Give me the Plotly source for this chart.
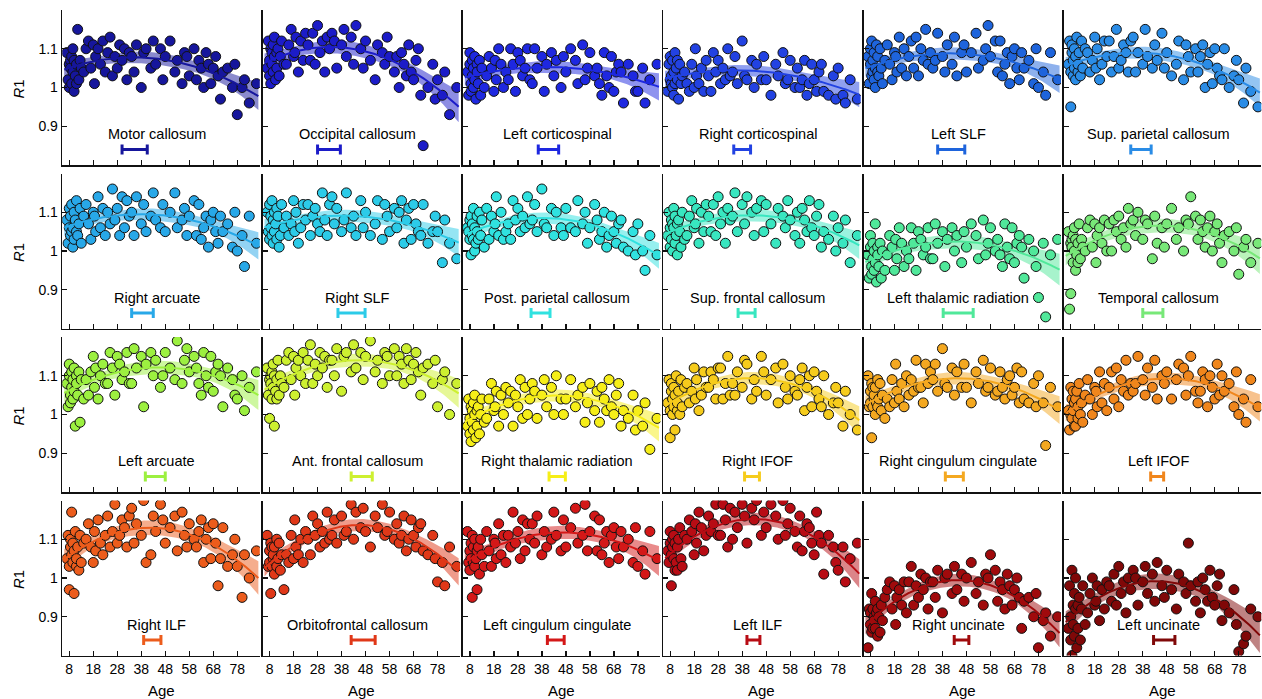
import numpy as np
import plotly.graph_objects as go

# ---------------- data ----------------
ages = [7.0, 7.5, 8.0, 8.0, 8.5, 8.5, 9.0, 9.0, 9.5, 9.5, 10.0, 10.0, 10.5, 11.0, 11.0, 11.5, 12.0, 12.5, 13.0, 14.0,
        15, 16, 17, 18, 18.5, 19, 20, 21, 22, 23,
        24, 25, 26, 27, 28, 29, 30, 31, 32, 33,
        34, 35, 36, 38, 39, 40, 42, 43, 44, 46,
        47, 48, 50, 52, 53, 55, 56, 57, 58, 60,
        61, 62, 63, 64, 65, 66, 67, 68, 69, 70,
        71, 72, 74, 76, 77, 78, 80, 81, 83, 86]

tract_names = ["Motor callosum", "Occipital callosum", "Left corticospinal", "Right corticospinal", "Left SLF",
               "Sup. parietal callosum", "Right arcuate", "Right SLF", "Post. parietal callosum",
               "Sup. frontal callosum", "Left thalamic radiation", "Temporal callosum", "Left arcuate",
               "Ant. frontal callosum", "Right thalamic radiation", "Right IFOF", "Right cingulum cingulate",
               "Left IFOF", "Right ILF", "Orbitofrontal callosum", "Left cingulum cingulate", "Left ILF",
               "Right uncinate", "Left uncinate"]

peak_age_lo = [30.0, 28.0, 36.5, 34.5, 36.0, 33.0, 34.0, 36.5, 33.5, 36.3, 38.3, 38.0,
               39.7, 42.0, 41.0, 39.0, 39.2, 41.3, 39.0, 42.0, 40.3, 40.0, 42.9, 42.5]
peak_age_hi = [40.5, 37.5, 45.0, 41.5, 47.3, 41.5, 43.0, 47.8, 41.4, 43.4, 50.8, 46.4,
               48.0, 50.8, 47.8, 45.2, 46.7, 46.7, 46.2, 52.0, 47.3, 45.4, 49.0, 51.4]

r1_motor_callosum = [
    1.09, 1.02, 1.06, 1.00, 1.07, 1.05, 1.01, 1.08, 1.04, 1.10, 0.99, 1.07, 1.03, 1.06, 1.01, 1.15, 1.02, 1.07, 1.05, 1.04,
    1.10, 1.12, 1.05, 1.11, 1.01, 1.08, 1.10, 1.06, 1.12, 1.04,
    1.09, 1.13, 1.03, 1.08, 1.05, 1.11, 1.07, 1.10, 1.02, 1.09,
    1.08, 1.04, 1.11, 1.00, 1.09, 1.10, 1.05, 1.12, 1.06, 1.10,
    1.02, 1.08, 1.12, 1.04, 1.07, 1.01, 1.09, 1.08, 1.03, 1.10,
    1.02, 1.07, 1.05, 1.00, 1.09, 1.06, 1.01, 1.05, 1.08, 1.03,
    0.97, 1.04, 1.05, 1.00, 1.06, 0.93, 1.00, 1.02, 0.96, 1.01]
r1_occipital_callosum = [
    1.05, 1.12, 1.03, 1.07, 1.10, 1.01, 1.09, 1.06, 1.11, 1.04, 1.08, 1.13, 1.02, 1.09, 1.05, 1.10, 1.03, 1.08, 1.12, 1.06,
    1.06, 1.11, 1.15, 1.08, 1.09, 1.13, 1.04, 1.12, 1.07, 1.14,
    1.11, 1.07, 1.14, 1.06, 1.16, 1.09, 1.12, 1.04, 1.13, 1.10,
    1.14, 1.12, 1.05, 1.11, 1.15, 1.08, 1.13, 1.06, 1.16, 1.10,
    1.05, 1.12, 1.07, 1.02, 1.11, 1.09, 1.06, 1.13, 1.08, 1.04,
    1.08, 1.00, 1.09, 1.06, 1.03, 1.11, 1.04, 1.02, 1.07, 1.10,
    0.98, 0.85, 1.00, 1.06, 0.97, 1.02, 0.98, 1.04, 0.93, 1.00]
r1_left_corticospinal = [
    1.04, 0.98, 1.06, 1.09, 1.01, 0.99, 1.07, 1.03, 1.00, 1.05, 1.08, 1.02, 0.97, 1.06, 1.04, 1.01, 1.07, 0.98, 1.05, 1.00,
    1.03, 1.08, 1.05, 0.99, 1.07, 1.02, 1.10, 1.06, 1.00, 1.04,
    1.02, 1.10, 1.06, 0.99, 1.09, 1.07, 1.03, 1.05, 1.10, 1.02,
    1.01, 1.10, 1.05, 1.08, 0.99, 1.06, 1.09, 1.03, 1.07, 1.00,
    1.08, 1.04, 1.10, 1.07, 1.01, 1.11, 1.02, 1.05, 1.09, 1.03,
    1.05, 1.01, 0.98, 1.09, 1.03, 1.00, 1.08, 0.99, 1.04, 1.06,
    1.04, 0.96, 1.06, 1.03, 0.99, 0.99, 1.05, 0.96, 1.02, 1.06]
r1_right_corticospinal = [
    0.99, 1.06, 1.02, 1.08, 1.01, 1.03, 1.07, 1.00, 1.04, 0.98, 1.09, 1.01, 1.05, 1.02, 1.07, 0.97, 1.06, 1.01, 1.03, 1.04,
    1.01, 0.99, 1.06, 1.00, 1.10, 1.03, 1.01, 1.05, 0.99, 1.07,
    1.03, 0.99, 1.09, 1.04, 1.07, 1.01, 1.05, 1.02, 1.10, 1.03,
    1.04, 1.08, 1.01, 1.12, 1.03, 1.02, 1.07, 1.00, 1.06, 1.02,
    1.08, 1.02, 0.98, 1.06, 1.03, 1.09, 1.01, 1.02, 1.07, 1.00,
    1.05, 1.00, 1.02, 1.07, 0.98, 1.01, 1.06, 1.02, 0.99, 1.04,
    1.06, 0.99, 0.98, 1.03, 0.97, 1.05, 0.98, 0.96, 1.02, 0.97]
r1_left_slf = [
    1.08, 1.01, 1.10, 1.06, 1.03, 1.12, 1.04, 1.07, 1.02, 1.09, 1.05, 1.00, 1.11, 1.04, 1.08, 1.03, 1.10, 1.05, 1.01, 1.07,
    1.11, 1.06, 1.02, 1.09, 1.08, 1.04, 1.13, 1.05, 1.10, 1.03,
    1.08, 1.12, 1.05, 1.13, 1.03, 1.10, 1.07, 1.15, 1.06, 1.09,
    1.05, 1.07, 1.14, 1.08, 1.04, 1.11, 1.06, 1.13, 1.03, 1.09,
    1.11, 1.04, 1.09, 1.14, 1.05, 1.07, 1.10, 1.16, 1.08, 1.12,
    1.04, 1.12, 1.03, 1.06, 1.09, 1.01, 1.08, 1.10, 1.05, 1.02,
    1.09, 1.05, 1.07, 1.01, 1.10, 1.00, 1.04, 0.98, 1.09, 1.02]
r1_sup_parietal_callosum = [
    1.06, 1.12, 1.04, 0.95, 1.09, 1.11, 1.03, 1.07, 1.10, 1.05, 1.02, 1.08, 1.13, 1.04, 1.06, 1.09, 1.03, 1.12, 1.05, 1.10,
    1.09, 1.04, 1.07, 1.13, 1.05, 1.10, 1.02, 1.06, 1.12, 1.08,
    1.12, 1.04, 1.08, 1.15, 1.05, 1.07, 1.11, 1.09, 1.04, 1.12,
    1.13, 1.04, 1.09, 1.06, 1.15, 1.08, 1.05, 1.11, 1.07, 1.14,
    1.05, 1.09, 1.03, 1.06, 1.12, 1.02, 1.11, 1.08, 1.04, 1.10,
    1.04, 1.08, 1.11, 1.00, 1.06, 1.09, 1.01, 1.10, 1.05, 1.03,
    1.02, 1.10, 1.00, 1.03, 1.07, 1.02, 0.96, 1.05, 0.99, 0.95]
r1_right_arcuate = [
    1.08, 1.02, 1.06, 1.11, 1.04, 1.09, 1.05, 1.12, 1.01, 1.06, 1.10, 1.03, 1.08, 1.05, 1.13, 1.04, 1.07, 1.11, 1.02, 1.09,
    1.12, 1.07, 1.03, 1.10, 1.09, 1.05, 1.14, 1.06, 1.11, 1.04,
    1.10, 1.07, 1.16, 1.08, 1.11, 1.04, 1.14, 1.06, 1.13, 1.09,
    1.10, 1.04, 1.14, 1.07, 1.12, 1.05, 1.09, 1.15, 1.08, 1.06,
    1.12, 1.05, 1.10, 1.15, 1.06, 1.08, 1.11, 1.04, 1.09, 1.13,
    1.04, 1.12, 1.03, 1.06, 1.09, 1.01, 1.08, 1.10, 1.05, 1.02,
    1.09, 1.05, 1.07, 1.01, 1.10, 1.00, 1.04, 0.96, 1.09, 1.02]
r1_right_slf = [
    1.10, 1.05, 1.12, 1.03, 1.09, 1.06, 1.04, 1.13, 1.08, 1.02, 1.05, 1.10, 1.07, 1.03, 1.11, 1.09, 1.01, 1.04, 1.12, 1.06,
    1.09, 1.04, 1.07, 1.13, 1.05, 1.10, 1.02, 1.06, 1.12, 1.08,
    1.12, 1.04, 1.09, 1.11, 1.07, 1.05, 1.15, 1.08, 1.04, 1.12,
    1.14, 1.07, 1.11, 1.05, 1.08, 1.15, 1.06, 1.09, 1.04, 1.13,
    1.06, 1.10, 1.04, 1.07, 1.13, 1.03, 1.12, 1.09, 1.05, 1.11,
    1.06, 1.10, 1.13, 1.02, 1.08, 1.11, 1.03, 1.12, 1.07, 1.05,
    1.04, 1.12, 1.02, 1.05, 1.09, 1.05, 0.97, 1.08, 1.02, 0.98]
r1_post_parietal_callosum = [
    1.06, 1.05, 1.03, 1.08, 0.99, 1.09, 1.04, 1.07, 1.03, 1.11, 1.00, 1.06, 1.02, 1.09, 1.05, 1.03, 1.10, 1.04, 1.08, 1.01,
    1.11, 1.03, 1.09, 1.05, 1.07, 1.14, 1.04, 1.10, 1.03, 1.05,
    1.07, 1.03, 1.13, 1.08, 1.11, 1.05, 1.09, 1.06, 1.14, 1.07,
    1.08, 1.12, 1.05, 1.16, 1.07, 1.06, 1.11, 1.04, 1.10, 1.06,
    1.04, 1.11, 1.06, 1.05, 1.13, 1.07, 1.10, 1.02, 1.06, 1.12,
    1.08, 1.03, 1.05, 1.10, 1.01, 1.04, 1.09, 1.05, 1.02, 1.07,
    1.08, 1.01, 1.00, 1.05, 0.99, 1.07, 1.00, 0.95, 1.04, 0.99]
r1_sup_frontal_callosum = [
    1.04, 1.10, 1.06, 1.01, 1.08, 1.03, 1.07, 1.00, 1.11, 1.06, 1.02, 1.09, 1.04, 1.07, 0.99, 1.08, 1.05, 1.01, 1.10, 1.03,
    1.04, 1.09, 1.13, 1.06, 1.07, 1.11, 1.02, 1.10, 1.05, 1.12,
    1.09, 1.05, 1.12, 1.04, 1.14, 1.07, 1.10, 1.02, 1.11, 1.08,
    1.09, 1.15, 1.05, 1.12, 1.07, 1.14, 1.10, 1.04, 1.11, 1.13,
    1.05, 1.12, 1.07, 1.02, 1.11, 1.09, 1.06, 1.13, 1.08, 1.04,
    1.10, 1.02, 1.11, 1.08, 1.05, 1.13, 1.06, 1.04, 1.09, 1.12,
    1.01, 1.05, 1.03, 1.09, 1.00, 1.06, 1.02, 1.08, 0.97, 1.04]
r1_left_thalamic_radiation = [
    0.99, 0.93, 1.01, 1.04, 0.96, 0.94, 1.02, 0.98, 0.95, 1.00, 1.07, 0.97, 0.92, 1.01, 0.99, 0.96, 1.02, 0.93, 1.00, 0.95,
    0.99, 1.04, 1.01, 0.95, 1.03, 0.98, 1.06, 1.02, 0.96, 1.00,
    0.98, 1.06, 1.02, 0.95, 1.05, 1.03, 0.99, 1.01, 1.06, 0.98,
    0.98, 1.07, 1.02, 1.05, 0.96, 1.03, 1.06, 1.00, 1.04, 0.97,
    1.05, 1.01, 1.07, 1.04, 0.98, 1.08, 0.99, 1.02, 1.06, 1.00,
    1.03, 0.99, 0.96, 1.07, 1.01, 0.98, 1.06, 0.97, 1.02, 1.04,
    1.01, 0.93, 1.03, 1.00, 0.96, 0.88, 1.02, 0.83, 0.99, 1.03]
r1_temporal_callosum = [
    1.05, 0.85, 1.02, 0.89, 1.03, 1.01, 0.97, 1.04, 1.00, 1.06, 0.95, 1.03, 0.99, 1.02, 0.97, 1.07, 0.98, 1.03, 1.01, 1.00,
    1.06, 1.08, 1.01, 1.07, 0.97, 1.04, 1.06, 1.02, 1.08, 1.00,
    1.07, 1.00, 1.08, 1.05, 1.09, 1.03, 1.06, 1.01, 1.11, 1.07,
    1.08, 1.04, 1.10, 1.03, 1.08, 1.07, 0.98, 1.09, 1.02, 1.06,
    1.01, 1.07, 1.11, 1.03, 1.06, 1.00, 1.08, 1.07, 1.14, 1.09,
    1.03, 1.08, 1.05, 1.01, 1.06, 1.09, 1.00, 1.05, 1.07, 1.02,
    0.97, 1.04, 1.05, 1.00, 1.06, 0.94, 1.01, 1.03, 0.97, 1.02]
r1_left_arcuate = [
    1.08, 1.02, 1.10, 1.13, 1.05, 1.03, 1.11, 1.07, 1.04, 1.09, 1.12, 1.06, 0.97, 1.10, 1.08, 1.05, 1.11, 0.98, 1.09, 1.04,
    1.09, 1.05, 1.11, 1.15, 1.07, 1.12, 1.04, 1.10, 1.13, 1.08,
    1.08, 1.16, 1.12, 1.05, 1.15, 1.13, 1.09, 1.11, 1.16, 1.08,
    1.08, 1.17, 1.12, 1.15, 1.02, 1.13, 1.16, 1.10, 1.14, 1.07,
    1.10, 1.16, 1.12, 1.09, 1.19, 1.08, 1.14, 1.17, 1.11, 1.15,
    1.12, 1.08, 1.05, 1.16, 1.10, 1.07, 1.15, 1.06, 1.11, 1.13,
    1.10, 1.02, 1.12, 1.09, 1.05, 1.04, 1.10, 1.01, 1.07, 1.11]
r1_ant_frontal_callosum = [
    1.12, 1.05, 1.09, 0.99, 1.10, 1.08, 1.04, 1.11, 1.07, 1.13, 0.97, 1.10, 1.06, 1.09, 1.04, 1.14, 1.05, 1.10, 1.08, 1.07,
    1.14, 1.16, 1.09, 1.15, 1.05, 1.12, 1.14, 1.10, 1.16, 1.08,
    1.14, 1.18, 1.08, 1.13, 1.10, 1.16, 1.12, 1.15, 1.07, 1.14,
    1.14, 1.10, 1.17, 1.06, 1.15, 1.16, 1.11, 1.18, 1.12, 1.16,
    1.09, 1.15, 1.19, 1.11, 1.14, 1.08, 1.16, 1.15, 1.10, 1.17,
    1.10, 1.15, 1.13, 1.08, 1.17, 1.14, 1.09, 1.13, 1.16, 1.11,
    1.05, 1.12, 1.13, 1.08, 1.14, 1.02, 1.09, 1.11, 1.00, 1.08]
r1_right_thalamic_radiation = [
    0.97, 1.04, 0.95, 0.99, 1.02, 0.93, 1.01, 0.98, 1.03, 0.96, 1.00, 1.05, 0.94, 1.01, 0.97, 1.02, 0.95, 1.00, 1.04, 0.98,
    0.99, 1.04, 1.08, 1.01, 1.02, 1.06, 0.97, 1.05, 1.00, 1.07,
    1.03, 1.06, 0.97, 1.05, 1.02, 1.09, 0.99, 1.07, 1.00, 1.04,
    1.08, 1.06, 0.99, 1.05, 1.09, 1.02, 1.07, 1.00, 1.10, 1.04,
    1.00, 1.04, 1.09, 1.02, 1.05, 1.07, 0.98, 1.03, 1.08, 1.01,
    1.06, 0.98, 1.07, 1.04, 1.01, 1.09, 1.02, 1.00, 1.05, 1.08,
    0.97, 1.01, 0.99, 1.05, 0.96, 1.01, 0.97, 1.03, 0.91, 0.99]
r1_right_ifof = [
    1.03, 1.09, 1.01, 0.94, 1.06, 1.08, 1.00, 1.04, 1.07, 1.02, 0.96, 1.05, 1.10, 1.01, 1.03, 1.06, 1.00, 1.09, 1.02, 1.07,
    1.08, 1.03, 1.06, 1.12, 1.04, 1.09, 1.01, 1.05, 1.11, 1.07,
    1.07, 1.11, 1.09, 1.04, 1.12, 1.12, 1.04, 1.08, 1.15, 1.05,
    1.08, 1.05, 1.11, 1.07, 1.14, 1.13, 1.04, 1.09, 1.06, 1.15,
    1.11, 1.05, 1.09, 1.12, 1.03, 1.13, 1.07, 1.04, 1.10, 1.06,
    1.05, 1.09, 1.12, 1.01, 1.07, 1.10, 1.02, 1.11, 1.06, 1.04,
    1.02, 1.10, 1.00, 1.03, 1.07, 1.03, 0.97, 1.06, 1.00, 0.96]
r1_right_cingulum_cingulate = [
    1.10, 1.02, 1.06, 1.03, 1.08, 0.94, 1.07, 1.02, 1.04, 1.05, 1.00, 1.07, 1.03, 1.09, 1.02, 1.04, 1.08, 1.01, 1.05, 0.99,
    1.04, 1.02, 1.09, 1.03, 1.13, 1.06, 1.04, 1.08, 1.02, 1.10,
    1.05, 1.09, 1.06, 1.14, 1.07, 1.07, 1.03, 1.13, 1.08, 1.11,
    1.09, 1.13, 1.06, 1.17, 1.08, 1.07, 1.12, 1.05, 1.11, 1.07,
    1.13, 1.07, 1.03, 1.11, 1.08, 1.14, 1.06, 1.07, 1.12, 1.05,
    1.06, 1.11, 1.07, 1.04, 1.09, 1.10, 1.05, 1.07, 1.12, 1.03,
    1.11, 1.04, 1.03, 1.08, 1.02, 1.10, 1.03, 0.92, 1.07, 1.02]
r1_left_ifof = [
    1.01, 0.96, 1.07, 1.00, 1.04, 0.99, 1.06, 1.01, 0.97, 1.03, 1.04, 0.97, 1.06, 1.02, 0.99, 1.08, 1.00, 1.03, 0.98, 1.05,
    1.09, 1.04, 1.00, 1.07, 1.06, 1.02, 1.11, 1.03, 1.08, 1.01,
    1.07, 1.11, 1.04, 1.12, 1.02, 1.09, 1.06, 1.14, 1.05, 1.08,
    1.06, 1.08, 1.15, 1.09, 1.05, 1.12, 1.07, 1.14, 1.04, 1.10,
    1.08, 1.11, 1.04, 1.09, 1.13, 1.12, 1.05, 1.10, 1.15, 1.06,
    1.03, 1.06, 1.11, 1.09, 1.02, 1.10, 1.07, 1.04, 1.13, 1.05,
    1.10, 1.06, 1.08, 1.02, 1.11, 1.00, 1.04, 0.98, 1.09, 1.02]
r1_right_ilf = [
    1.05, 1.11, 1.03, 0.97, 1.08, 1.10, 1.17, 1.06, 1.09, 1.04, 0.96, 1.07, 1.12, 1.03, 1.05, 1.08, 1.02, 1.11, 1.04, 1.09,
    1.10, 1.14, 1.08, 1.04, 1.12, 1.07, 1.15, 1.09, 1.06, 1.11,
    1.16, 1.08, 1.12, 1.19, 1.09, 1.11, 1.15, 1.13, 1.08, 1.16,
    1.18, 1.09, 1.14, 1.11, 1.20, 1.04, 1.06, 1.16, 1.12, 1.19,
    1.15, 1.09, 1.13, 1.16, 1.07, 1.17, 1.11, 1.08, 1.14, 1.10,
    1.08, 1.12, 1.15, 1.04, 1.10, 1.13, 1.05, 1.14, 1.09, 0.98,
    1.05, 1.13, 1.03, 1.06, 1.10, 1.03, 0.95, 1.06, 1.00, 1.07]
r1_orbitofrontal_callosum = [
    1.11, 1.03, 1.07, 1.04, 1.09, 0.96, 1.08, 1.03, 1.05, 1.06, 1.01, 1.08, 1.04, 1.10, 1.03, 1.05, 1.09, 1.02, 1.06, 0.97,
    1.06, 1.04, 1.11, 1.05, 1.15, 1.08, 1.06, 1.10, 1.04, 1.12,
    1.10, 1.06, 1.16, 1.11, 1.14, 1.08, 1.12, 1.09, 1.17, 1.10,
    1.11, 1.15, 1.09, 1.16, 1.11, 1.12, 1.19, 1.10, 1.17, 1.13,
    1.18, 1.12, 1.08, 1.16, 1.13, 1.19, 1.11, 1.12, 1.17, 1.10,
    1.14, 1.09, 1.11, 1.16, 1.07, 1.10, 1.15, 1.11, 1.08, 1.13,
    1.14, 1.07, 1.06, 1.11, 1.05, 0.99, 1.04, 0.98, 1.08, 1.03]
r1_left_cingulum_cingulate = [
    1.12, 1.04, 1.07, 1.02, 1.09, 1.05, 0.95, 1.11, 1.04, 1.08, 1.03, 1.10, 1.05, 0.97, 1.07, 1.08, 1.01, 1.10, 1.06, 1.03,
    1.12, 1.07, 1.03, 1.10, 1.09, 1.05, 1.14, 1.06, 1.11, 1.04,
    1.11, 1.08, 1.17, 1.09, 1.12, 1.05, 1.15, 1.07, 1.14, 1.10,
    1.14, 1.09, 1.16, 1.06, 1.12, 1.08, 1.10, 1.17, 1.11, 1.07,
    1.15, 1.08, 1.13, 1.18, 1.09, 1.11, 1.19, 1.07, 1.12, 1.16,
    1.07, 1.15, 1.06, 1.09, 1.12, 1.04, 1.11, 1.13, 1.08, 1.05,
    1.12, 1.08, 1.10, 1.04, 1.13, 1.03, 1.07, 1.01, 1.12, 1.05]
r1_left_ilf = [
    1.07, 1.04, 1.09, 1.12, 1.06, 0.98, 1.10, 1.08, 1.05, 1.11, 1.02, 1.09, 1.04, 1.08, 1.02, 1.10, 1.13, 1.05, 1.03, 1.11,
    1.10, 1.15, 1.12, 1.06, 1.14, 1.09, 1.17, 1.13, 1.07, 1.11,
    1.16, 1.12, 1.14, 1.19, 1.11, 1.11, 1.19, 1.15, 1.08, 1.18,
    1.10, 1.17, 1.13, 1.19, 1.16, 1.09, 1.18, 1.15, 1.20, 1.11,
    1.17, 1.13, 1.19, 1.16, 1.10, 1.20, 1.11, 1.14, 1.18, 1.12,
    1.08, 1.16, 1.07, 1.12, 1.14, 1.13, 1.09, 1.06, 1.17, 1.11,
    1.09, 1.01, 1.11, 1.08, 1.04, 1.02, 1.08, 0.99, 1.05, 1.09]
r1_right_uncinate = [
    0.82, 0.92, 0.88, 0.91, 0.86, 0.96, 0.87, 0.92, 0.90, 0.89, 0.94, 0.87, 0.91, 0.85, 0.92, 0.90, 0.86, 0.93, 0.89, 0.95,
    0.97, 0.99, 0.92, 0.98, 0.88, 0.95, 0.97, 0.93, 0.99, 0.91,
    0.99, 1.03, 0.93, 0.98, 0.95, 1.01, 0.97, 1.00, 0.92, 0.99,
    0.99, 0.95, 1.02, 0.91, 1.00, 1.01, 0.96, 1.03, 0.97, 1.01,
    0.94, 1.00, 1.04, 0.96, 0.99, 0.93, 1.01, 1.00, 1.06, 1.02,
    0.94, 0.99, 0.97, 0.92, 1.01, 0.98, 0.93, 0.97, 1.00, 0.95,
    0.87, 0.94, 0.95, 0.90, 0.96, 0.82, 0.89, 0.91, 0.85, 0.90]
r1_left_uncinate = [
    0.87, 0.98, 0.84, 0.90, 1.02, 0.80, 0.93, 0.88, 0.96, 0.85, 0.92, 1.00, 0.82, 0.93, 0.87, 0.95, 0.84, 0.92, 0.98, 0.88,
    0.91, 0.96, 1.00, 0.93, 0.94, 0.98, 0.89, 0.97, 0.92, 0.99,
    0.98, 0.94, 1.01, 0.93, 1.03, 0.96, 0.99, 0.91, 1.00, 0.97,
    1.02, 1.00, 0.93, 0.99, 1.03, 0.96, 1.01, 0.94, 1.04, 0.98,
    0.95, 1.02, 0.97, 0.92, 1.01, 0.99, 0.96, 1.09, 0.98, 0.94,
    0.99, 0.91, 1.00, 0.97, 0.94, 1.02, 0.95, 0.93, 0.98, 1.01,
    0.89, 0.93, 0.91, 0.97, 0.88, 0.81, 0.83, 0.85, 0.92, 0.90]

r1_series = [r1_motor_callosum, r1_occipital_callosum, r1_left_corticospinal, r1_right_corticospinal,
             r1_left_slf, r1_sup_parietal_callosum, r1_right_arcuate, r1_right_slf,
             r1_post_parietal_callosum, r1_sup_frontal_callosum, r1_left_thalamic_radiation,
             r1_temporal_callosum, r1_left_arcuate, r1_ant_frontal_callosum,
             r1_right_thalamic_radiation, r1_right_ifof, r1_right_cingulum_cingulate, r1_left_ifof,
             r1_right_ilf, r1_orbitofrontal_callosum, r1_left_cingulum_cingulate, r1_left_ilf,
             r1_right_uncinate, r1_left_uncinate]

x_ticks = [8, 18, 28, 38, 48, 58, 68, 78]
y_ticks = [0.9, 1.0, 1.1]
y_tick_text = ["0.9", "1", "1.1"]

# ---------------- style ----------------
colors = ["#16169c", "#1c1cc8", "#1e28e0", "#2242e2", "#1e64dc", "#2a8ce6",
          "#28a8e8", "#2ccbe8", "#30e2e0", "#38e6c0", "#50e89a", "#78e878",
          "#9cf040", "#cdf030", "#f6ee18", "#f6cc1c", "#f4a820", "#f0861c",
          "#ec5c1c", "#e03818", "#d41818", "#b80c14", "#a00a0c", "#800808"]

FONT = "Liberation Sans, Arial, Helvetica, sans-serif"
W, H = 1262, 699
col_left = [62.3 + 200.3 * c for c in range(6)]
PW = 197.5
row_top = [10 + 163.5 * r for r in range(4)]
PH = 155
XR = [5.1, 5.1 + PW / 2.4]
YR = [0.80, 1.20]
CI_Z = 2.3


def rgba(hx, a):
    hx = hx.lstrip('#')
    return "rgba(%d,%d,%d,%.2f)" % (int(hx[0:2], 16), int(hx[2:4], 16), int(hx[4:6], 16), a)


fig = go.Figure()
layout = dict(width=W, height=H, margin=dict(l=0, r=0, t=0, b=0),
              paper_bgcolor="white", plot_bgcolor="white", showlegend=False,
              font=dict(family=FONT, size=14, color="black"))
annotations = []

for k, (name, vals) in enumerate(zip(tract_names, r1_series)):
    r, c = divmod(k, 6)
    n = k + 1
    xa = "x" if n == 1 else "x%d" % n
    ya = "y" if n == 1 else "y%d" % n
    col = colors[k]

    m = min(len(ages), len(vals))
    xv = np.array(ages[:m], dtype=float)
    yv = np.array(vals[:m], dtype=float)

    coef, cov = np.polyfit(xv, yv, 2, cov=True)
    xs = np.linspace(XR[0] + 0.8, XR[1] - 0.6, 150)
    X = np.vstack([xs ** 2, xs, np.ones_like(xs)]).T
    yfit = X @ coef
    se = np.sqrt(np.einsum('ij,jk,ik->i', X, cov, X))
    up = yfit + CI_Z * se
    lo = yfit - CI_Z * se

    fig.add_trace(go.Scatter(x=np.concatenate([xs, xs[::-1]]), y=np.concatenate([up, lo[::-1]]),
                             fill="toself", fillcolor=rgba(col, 0.5), line=dict(width=0),
                             mode="lines", hoverinfo="skip", xaxis=xa, yaxis=ya))
    fig.add_trace(go.Scatter(x=xv, y=yv, mode="markers",
                             marker=dict(size=10, color=col, line=dict(color="#111111", width=1)),
                             xaxis=xa, yaxis=ya, name=name))
    fig.add_trace(go.Scatter(x=xs, y=yfit, mode="lines", line=dict(color=col, width=2),
                             hoverinfo="skip", xaxis=xa, yaxis=ya))
    mid = 0.5 * (peak_age_lo[k] + peak_age_hi[k])
    fig.add_trace(go.Scatter(x=[mid], y=[0.84], mode="markers",
                             marker=dict(size=1, color=col),
                             error_x=dict(type="data", symmetric=False,
                                          array=[peak_age_hi[k] - mid], arrayminus=[mid - peak_age_lo[k]],
                                          color=col, thickness=3, width=5),
                             xaxis=xa, yaxis=ya, hoverinfo="skip"))

    x0 = col_left[c] / W
    x1 = (col_left[c] + PW) / W
    y1 = 1 - row_top[r] / H
    y0 = 1 - (row_top[r] + PH) / H
    axis_common = dict(showline=True, linecolor="#111111", linewidth=1.6, ticks="inside",
                       ticklen=5, tickwidth=1.3, tickcolor="#111111", showgrid=False, zeroline=False,
                       tickfont=dict(family=FONT, size=14, color="black"), fixedrange=True)
    layout["xaxis" if n == 1 else "xaxis%d" % n] = dict(
        domain=[x0, x1], anchor=ya, range=XR, tickmode="array", tickvals=x_ticks,
        ticktext=[str(t) for t in x_ticks], showticklabels=(r == 3), **axis_common)
    layout["yaxis" if n == 1 else "yaxis%d" % n] = dict(
        domain=[y0, y1], anchor=xa, range=YR, tickmode="array", tickvals=y_ticks,
        ticktext=y_tick_text, showticklabels=(c == 0), **axis_common)

    annotations.append(dict(x=44.5, y=0.88, xref=xa, yref=ya, text=name, showarrow=False,
                            font=dict(family=FONT, size=14.5, color="black"),
                            xanchor="center", yanchor="middle"))

for r in range(4):
    yc = 1 - (row_top[r] + PH / 2 + 2) / H
    annotations.append(dict(x=18 / W, y=yc, xref="paper", yref="paper", text="<i>R</i>1",
                            showarrow=False, textangle=-90, font=dict(family=FONT, size=15, color="black"),
                            xanchor="center", yanchor="middle"))
for c in range(6):
    xc = (col_left[c] + PW / 2) / W
    annotations.append(dict(x=xc, y=1 - 690 / H, xref="paper", yref="paper", text="Age",
                            showarrow=False, font=dict(family=FONT, size=15, color="black"),
                            xanchor="center", yanchor="middle"))

layout["annotations"] = annotations
fig.update_layout(**layout)
fig.write_html("out.html",
               config={"displayModeBar": False, "staticPlot": True},
               post_script="document.body.style.margin='0px';document.body.style.padding='0px';"
                           "document.documentElement.style.overflow='hidden';")
